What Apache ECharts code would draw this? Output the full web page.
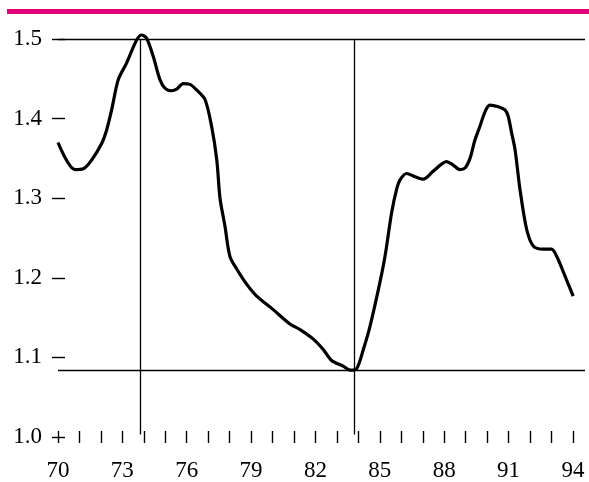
<!DOCTYPE html>
<html>
<head>
<meta charset="utf-8">
<script src="https://cdn.jsdelivr.net/npm/echarts@6/dist/echarts.min.js"></script>
<style>
html,body{margin:0;padding:0;background:#fff;}
#chart{width:589px;height:482px;}
</style>
</head>
<body>
<div id="chart"></div>
<script>
// Data
const years = [70.0, 70.79, 71.18, 71.57, 72.04, 72.27, 72.5, 72.81, 73.2, 73.67, 73.9, 74.13, 74.44, 74.75, 74.99, 75.3, 75.53, 75.84, 76.15, 76.46, 76.85, 77.16, 77.4, 77.55, 77.78, 78.01, 78.33, 78.79, 79.26, 80.03, 80.81, 81.28, 81.9, 82.36, 82.75, 83.29, 83.61, 83.92, 84.23, 84.54, 85.0, 85.24, 85.55, 85.78, 85.94, 86.25, 86.64, 87.02, 87.49, 88.11, 88.4, 88.73, 88.97, 89.2, 89.43, 89.66, 89.82, 89.98, 90.13, 90.52, 90.83, 90.98, 91.14, 91.3, 91.53, 91.84, 92.15, 92.62, 93.0, 93.24, 93.63, 94.01];
const values = [1.370, 1.336, 1.337, 1.348, 1.369, 1.386, 1.411, 1.449, 1.470, 1.499, 1.505, 1.501, 1.478, 1.449, 1.438, 1.435, 1.437, 1.444, 1.443, 1.436, 1.424, 1.390, 1.348, 1.300, 1.265, 1.227, 1.211, 1.192, 1.177, 1.160, 1.142, 1.135, 1.123, 1.110, 1.096, 1.089, 1.084, 1.086, 1.110, 1.139, 1.194, 1.227, 1.282, 1.311, 1.323, 1.331, 1.327, 1.324, 1.334, 1.346, 1.342, 1.336, 1.338, 1.350, 1.373, 1.390, 1.403, 1.413, 1.417, 1.415, 1.411, 1.403, 1.382, 1.361, 1.311, 1.261, 1.240, 1.236, 1.236, 1.227, 1.202, 1.177];
const xTickValues = [70,71,72,73,74,75,76,77,78,79,80,81,82,83,84,85,86,87,88,89,90,91,92,93,94];
const xLabelValues = [70,73,76,79,82,85,88,91,94];
const yTickValues = [1.0,1.1,1.2,1.3,1.4,1.5];
const peakTroughYears = [73.82, 83.79];
const levelValues = [1.5, 1.084];

const chart = echarts.init(document.getElementById('chart'), null, {renderer:'canvas'});
const font = 'Liberation Serif';
const xMin = 70, xMax = 94.56, xLineStart = 70.0;

const seriesData = years.map((y,i)=>[y, values[i]]);
const markLines = [];
levelValues.forEach(v => markLines.push([{coord:[xLineStart, v]}, {coord:[xMax, v]}]));
peakTroughYears.forEach(yr => markLines.push([{coord:[yr, 1.5]}, {coord:[yr, 1.003]}]));

chart.setOption({
  animation:false,
  backgroundColor:'#fff',
  graphic:[{type:'rect', shape:{x:7, y:9, width:582, height:5}, style:{fill:'#e2007a'}, silent:true}],
  grid:{left:58, right:4, top:39, bottom:44, containLabel:false},
  xAxis:{
    type:'value', min:xMin, max:xMax, offset:-6,
    axisLine:{show:false},
    splitLine:{show:false},
    axisTick:{show:true, length:12, customValues:xTickValues, lineStyle:{color:'#000', width:1.4}},
    axisLabel:{show:true, customValues:xLabelValues, margin:28, color:'#000', fontFamily:font, fontSize:23}
  },
  yAxis:{
    type:'value', min:1.0, max:1.5, offset:-7,
    axisLine:{show:false},
    splitLine:{show:false},
    axisTick:{show:true, length:13, customValues:yTickValues, lineStyle:{color:'#000', width:1.4}},
    axisLabel:{show:true, customValues:yTickValues, margin:23, color:'#000', fontFamily:font, fontSize:23,
      formatter: v => v.toFixed(1)}
  },
  series:[{
    type:'line', data:seriesData, smooth:0.3, showSymbol:false, clip:false,
    lineStyle:{color:'#000', width:3.2},
    markLine:{silent:true, symbol:['none','none'], label:{show:false},
      lineStyle:{color:'#000', width:1.3, type:'solid'}, emphasis:{disabled:true},
      data:markLines}
  }]
});
</script>
</body>
</html>
